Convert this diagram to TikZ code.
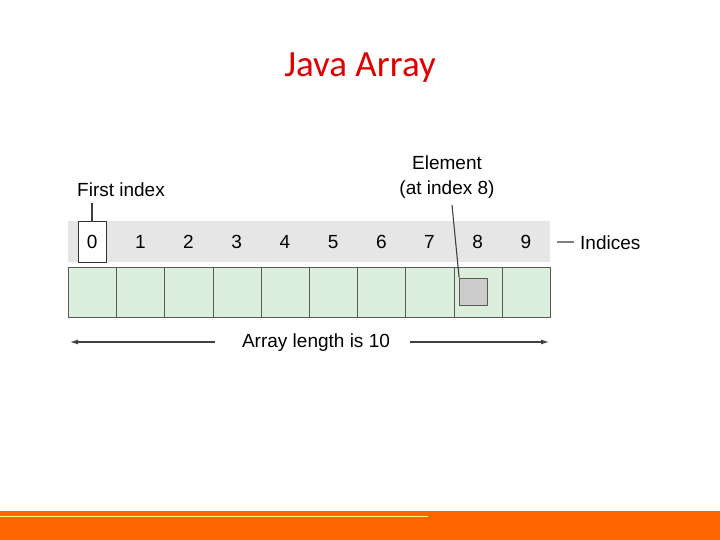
\documentclass[tikz,border=0pt]{standalone}
\usepackage{fontspec}
\usetikzlibrary{arrows.meta}
\setmainfont{Liberation Sans}
\newfontfamily\titlefont{Carlito}
\definecolor{orng}{HTML}{FF6600}
\definecolor{cellg}{HTML}{DCEEDC}
\definecolor{stripg}{HTML}{E6E6E6}
\definecolor{titred}{HTML}{E00000}
\begin{document}
\begin{tikzpicture}[x=1pt,y=-1pt,
  lbl/.style={font=\fontsize{19}{21}\selectfont, inner sep=0pt},
  cellbox/.style={draw=gray!70!black, fill=cellg, minimum width=48.2pt, minimum height=50pt, inner sep=0pt, line width=0.8pt},
  thinline/.style={draw=black!75, line width=1.1pt}]
\useasboundingbox (0,0) rectangle (720,540);
\fill[white] (0,0) rectangle (720,540);
\node[font=\titlefont\fontsize{37}{40}\selectfont, text=titred, inner sep=0pt] (title) at (360,68) {Java Array};
% strip
\fill[stripg] (68,221) rectangle (550,262);
\foreach \i in {0,...,9}{
  \node[cellbox, anchor=north west] (c\i) at ({68+48.2*\i},267) {};
  \node[lbl] (n\i) at ({92.1+48.2*\i},242) {\i};
}
\node[draw=black!80, fill=white, minimum width=28pt, minimum height=40pt, inner sep=0pt, line width=1pt] (zbox) at (92,242) {};
\node[lbl] at (92.1,242) {0};
\node[fill=black!20, draw=gray!70!black, minimum width=28pt, minimum height=27pt, inner sep=0pt, line width=0.8pt] (elem) at (473.5,291.5) {};
\node[lbl] (first) at (121,190) {First index};
\node[lbl] (elabel) at (447,163) {Element};
\node[lbl] (elabel2) at (447,190) {(at index 8)};
\node[lbl, anchor=west] (ind) at (580,243) {Indices};
\coordinate (fl) at (92,203);
\coordinate (el) at (452,205);
\coordinate (il) at (557,242);
\draw[thinline] (fl) -- (zbox.north);
\draw[thinline] (el) -- (elem.north west);
\draw[thinline, draw=gray, line width=1.5pt] (il) -- (574,242);
\node[lbl] (alen) at (316,343) {Array length is 10};
\coordinate (al) at (215,342);
\coordinate (ale) at (70,342);
\coordinate (ar) at (410,342);
\coordinate (are) at (549,342);
\draw[thinline, -{Latex[length=8pt,width=5pt]}] (al) -- (ale);
\draw[thinline, -{Latex[length=8pt,width=5pt]}] (ar) -- (are);
% bottom bar
\fill[orng] (0,511) rectangle (720,540);
\draw[yellow!40, line width=0.7pt] (0,516) -- (428,516);
\end{tikzpicture}
\end{document}
